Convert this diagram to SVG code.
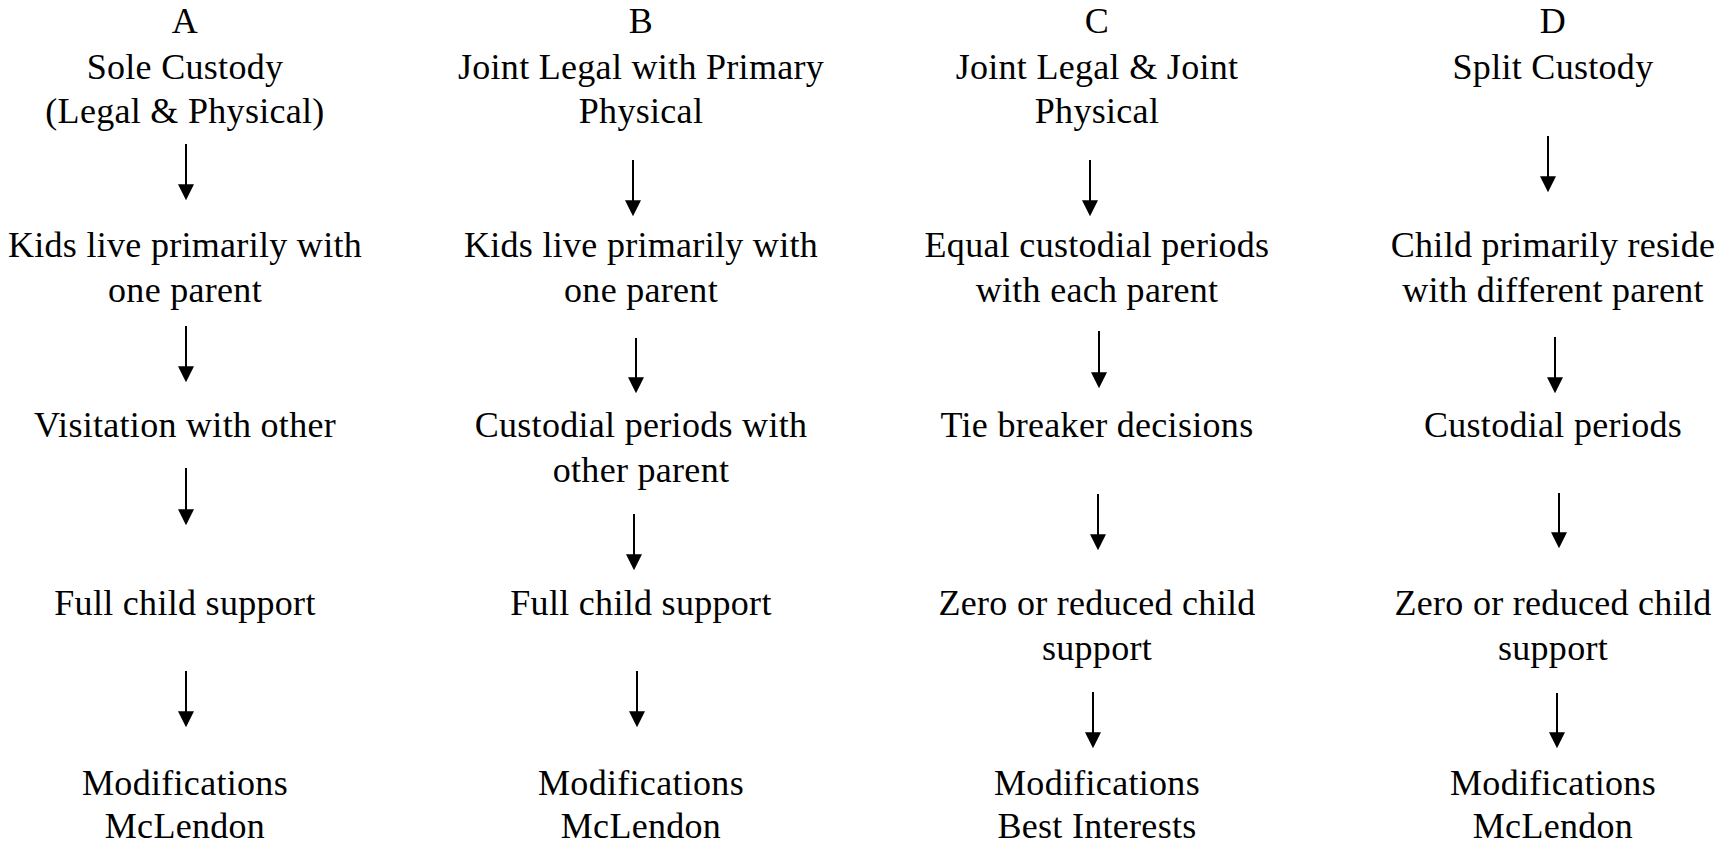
<svg xmlns="http://www.w3.org/2000/svg" width="1730" height="843" viewBox="0 0 1730 843">
<style>
  text { font-family: "Liberation Serif", "Times New Roman", serif; font-size: 36px; letter-spacing: 0.3px; fill: #000; text-anchor: middle; }
  .arrow { stroke: #000; stroke-width: 2; fill: none; marker-end: url(#head); }
</style>
<defs>
  <marker id="head" markerUnits="userSpaceOnUse" markerWidth="16" markerHeight="16" viewBox="0 0 15 15" refX="12" refY="7.5" orient="auto">
    <path d="M0,0 L15,7.5 L0,15 z" fill="#000"/>
  </marker>
</defs>
<rect width="1730" height="843" fill="#fff"/>

<g id="connectors">
  <line class="arrow" x1="186" y1="144" x2="186" y2="197"/>
  <line class="arrow" x1="186" y1="326" x2="186" y2="379"/>
  <line class="arrow" x1="186" y1="468" x2="186" y2="522"/>
  <line class="arrow" x1="186" y1="671" x2="186" y2="724"/>

  <line class="arrow" x1="633" y1="160" x2="633" y2="213"/>
  <line class="arrow" x1="636" y1="338" x2="636" y2="390"/>
  <line class="arrow" x1="634" y1="514" x2="634" y2="567"/>
  <line class="arrow" x1="637" y1="671" x2="637" y2="724"/>

  <line class="arrow" x1="1090" y1="160" x2="1090" y2="213"/>
  <line class="arrow" x1="1099" y1="331" x2="1099" y2="385"/>
  <line class="arrow" x1="1098" y1="494" x2="1098" y2="547"/>
  <line class="arrow" x1="1093" y1="692" x2="1093" y2="745"/>

  <line class="arrow" x1="1548" y1="136" x2="1548" y2="189"/>
  <line class="arrow" x1="1555" y1="337" x2="1555" y2="390"/>
  <line class="arrow" x1="1559" y1="493" x2="1559" y2="545"/>
  <line class="arrow" x1="1557" y1="693" x2="1557" y2="745"/>
</g>

<g id="A-title"><text x="185" y="33">A</text><text x="185" y="79">Sole Custody</text><text x="185" y="123">(Legal &amp; Physical)</text></g>
<g id="A-1"><text x="185" y="257">Kids live primarily with</text><text x="185" y="302">one parent</text></g>
<g id="A-2"><text x="185" y="437">Visitation with other</text></g>
<g id="A-3"><text x="185" y="615">Full child support</text></g>
<g id="A-4"><text x="185" y="795">Modifications</text><text x="185" y="838">McLendon</text></g>

<g id="B-title"><text x="641" y="33">B</text><text x="641" y="79">Joint Legal with Primary</text><text x="641" y="123">Physical</text></g>
<g id="B-1"><text x="641" y="257">Kids live primarily with</text><text x="641" y="302">one parent</text></g>
<g id="B-2"><text x="641" y="437">Custodial periods with</text><text x="641" y="482">other parent</text></g>
<g id="B-3"><text x="641" y="615">Full child support</text></g>
<g id="B-4"><text x="641" y="795">Modifications</text><text x="641" y="838">McLendon</text></g>

<g id="C-title"><text x="1097" y="33">C</text><text x="1097" y="79">Joint Legal &amp; Joint</text><text x="1097" y="123">Physical</text></g>
<g id="C-1"><text x="1097" y="257">Equal custodial periods</text><text x="1097" y="302">with each parent</text></g>
<g id="C-2"><text x="1097" y="437">Tie breaker decisions</text></g>
<g id="C-3"><text x="1097" y="615">Zero or reduced child</text><text x="1097" y="660">support</text></g>
<g id="C-4"><text x="1097" y="795">Modifications</text><text x="1097" y="838">Best Interests</text></g>

<g id="D-title"><text x="1553" y="33">D</text><text x="1553" y="79">Split Custody</text></g>
<g id="D-1"><text x="1553" y="257">Child primarily reside</text><text x="1553" y="302">with different parent</text></g>
<g id="D-2"><text x="1553" y="437">Custodial periods</text></g>
<g id="D-3"><text x="1553" y="615">Zero or reduced child</text><text x="1553" y="660">support</text></g>
<g id="D-4"><text x="1553" y="795">Modifications</text><text x="1553" y="838">McLendon</text></g>
</svg>
